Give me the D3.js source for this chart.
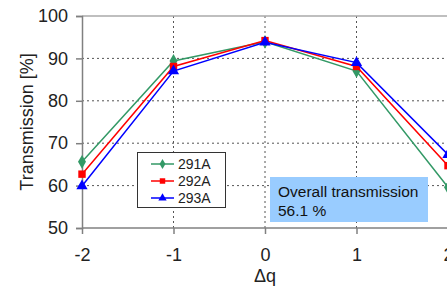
<!DOCTYPE html>
<html>
<head>
<meta charset="UTF-8">
<script src="https://d3js.org/d3.v7.min.js"></script>
<style>
  body { margin: 0; padding: 0; background: #fff; overflow: hidden; }
  svg { display: block; font-family: "Liberation Sans", Arial, sans-serif; }
</style>
</head>
<body>
<svg id="chart" width="447" height="290"></svg>
<script>
// data
const dq = [-2, -1, 0, 1, 2];
const s291A = [65.6, 89.4, 93.9, 87.0, 59.6];
const s292A = [62.7, 88.1, 94.2, 88.1, 64.7];
const s293A = [59.9, 87.0, 93.8, 89.0, 67.3];
const yTicks = [50, 60, 70, 80, 90, 100];
const xTicks = [-2, -1, 0, 1, 2];

const series = [
  { name: "291A", values: s291A, color: "#339966", shape: d3.symbolDiamond },
  { name: "292A", values: s292A, color: "#ff0000", shape: d3.symbolSquare },
  { name: "293A", values: s293A, color: "#0000ff", shape: d3.symbolTriangle }
];

const svg = d3.select("#chart");
const x = d3.scaleLinear().domain([-2, 2]).range([82, 448]);
const y = d3.scaleLinear().domain([50, 100]).range([228, 16]);

// dotted grid
svg.append("g")
  .selectAll("line")
  .data(yTicks.filter(v => v > 50 && v < 100))
  .enter().append("line")
  .attr("x1", x(-2)).attr("x2", 447)
  .attr("y1", d => y(d)).attr("y2", d => y(d))
  .attr("stroke", "#555").attr("stroke-dasharray", "2,3");

svg.append("g")
  .selectAll("line")
  .data(xTicks.filter(v => v > -2))
  .enter().append("line")
  .attr("x1", d => x(d)).attr("x2", d => x(d))
  .attr("y1", y(100)).attr("y2", y(50))
  .attr("stroke", "#555").attr("stroke-dasharray", "2,3");

// top border
svg.append("line")
  .attr("x1", x(-2)).attr("x2", 447)
  .attr("y1", y(100)).attr("y2", y(100))
  .attr("stroke", "#aaa").attr("stroke-width", 1.5);

// axes
const fmt = d => String(d);
const yAxis = svg.append("g")
  .attr("transform", `translate(${x(-2)},0)`)
  .call(d3.axisLeft(y).tickValues(yTicks).tickFormat(fmt).tickSize(6).tickPadding(8));
const xAxis = svg.append("g")
  .attr("transform", `translate(0,${y(50)})`)
  .call(d3.axisBottom(x).tickValues(xTicks).tickFormat(fmt).tickSize(6).tickPadding(14));

[yAxis, xAxis].forEach(a => {
  a.select(".domain").attr("stroke", "#808080").attr("stroke-width", 1.5);
  a.selectAll(".tick line").attr("stroke", "#808080").attr("stroke-width", 1.5);
  a.selectAll("text").attr("font-size", 18).attr("fill", "#222")
    .attr("font-family", "'Liberation Sans', Arial, sans-serif");
});
xAxis.select(".domain").attr("d", `M${x(-2)},0H447`);

// axis titles
svg.append("text")
  .attr("transform", `translate(33,${(y(50) + y(100)) / 2}) rotate(-90)`)
  .attr("text-anchor", "middle")
  .attr("font-size", 18).attr("fill", "#222")
  .text("Transmission [%]");
svg.append("text")
  .attr("x", x(0)).attr("y", 282)
  .attr("text-anchor", "middle")
  .attr("font-size", 18).attr("fill", "#222")
  .text("Δq");

// series
const line = d3.line().x((d, i) => x(dq[i])).y(d => y(d));
series.forEach(s => {
  svg.append("path")
    .datum(s.values)
    .attr("d", line)
    .attr("fill", "none")
    .attr("stroke", s.color)
    .attr("stroke-width", 1.5);
  svg.append("g")
    .selectAll("path")
    .data(s.values)
    .enter().append("path")
    .attr("transform", (d, i) => `translate(${x(dq[i])},${y(d)})`)
    .attr("d", d3.symbol().type(s.shape).size(55))
    .attr("fill", s.color);
});

// legend
const leg = svg.append("g");
leg.append("rect")
  .attr("x", 137.5).attr("y", 152.5).attr("width", 88).attr("height", 55)
  .attr("fill", "#fff").attr("stroke", "#333");
series.forEach((s, i) => {
  const ly = 164 + i * 17;
  leg.append("line")
    .attr("x1", 151).attr("x2", 174).attr("y1", ly).attr("y2", ly)
    .attr("stroke", s.color).attr("stroke-width", 1.5);
  leg.append("path")
    .attr("transform", `translate(162.5,${ly})`)
    .attr("d", d3.symbol().type(s.shape).size(30))
    .attr("fill", s.color);
  leg.append("text")
    .attr("x", 178).attr("y", ly + 5)
    .attr("font-size", 14).attr("fill", "#222")
    .text(s.name);
});

// note box
const note = svg.append("g");
note.append("rect")
  .attr("x", 270).attr("y", 177).attr("width", 158).attr("height", 45)
  .attr("fill", "#99ccff");
note.append("text")
  .attr("x", 278).attr("y", 197)
  .attr("font-size", 15.5).attr("fill", "#111")
  .text("Overall transmission");
note.append("text")
  .attr("x", 278).attr("y", 216)
  .attr("font-size", 15.5).attr("fill", "#111")
  .text("56.1 %");
</script>
</body>
</html>
